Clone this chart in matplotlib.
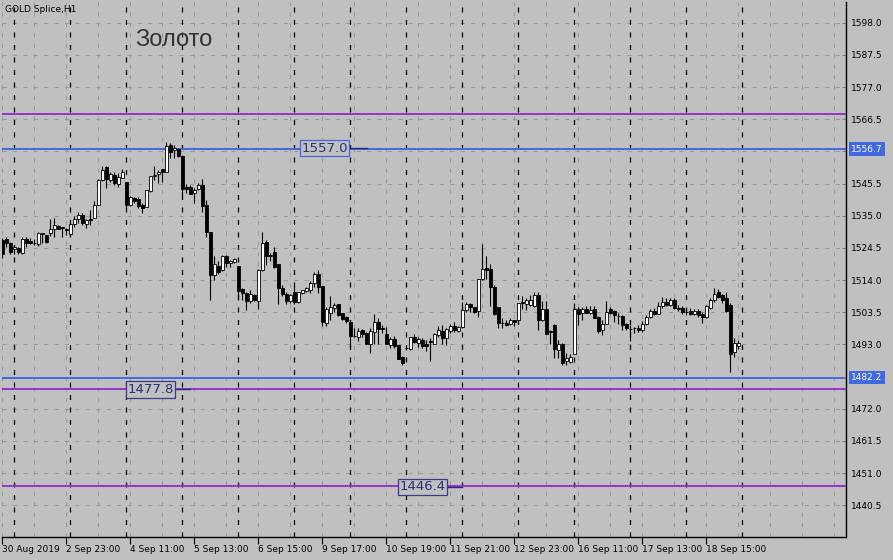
import numpy as np
import matplotlib.pyplot as plt

# H1 bars, 30 Aug 2019 21:00 .. 18 Sep 2019 23:00 (14 bars per trading day)
opens = [1527.0, 1527.3, 1526.0, 1524.0, 1524.6, 1523.0, 1527.4, 1526.8, 1526.0, 1525.7,
         1529.1, 1528.6, 1529.3, 1530.6, 1531.8, 1531.1, 1530.4, 1529.0, 1532.2, 1534.0,
         1535.1, 1532.4, 1534.0, 1534.4, 1538.6, 1546.6, 1551.0, 1546.7, 1548.3, 1545.3,
         1547.4, 1545.9, 1538.6, 1540.7, 1540.5, 1538.5, 1538.0, 1543.1, 1548.0, 1548.5,
         1550.3, 1549.4, 1558.1, 1556.3, 1556.8, 1554.5, 1544.5, 1544.3, 1542.3, 1543.6,
         1545.0, 1538.5, 1529.8, 1515.7, 1518.7, 1517.3, 1521.9, 1519.5, 1520.0, 1518.6,
         1511.2, 1509.9, 1507.2, 1509.1, 1507.2, 1517.3, 1526.5, 1522.0, 1523.2, 1519.1,
         1511.5, 1509.6, 1507.2, 1510.0, 1506.7, 1509.8, 1510.4, 1510.9, 1513.1, 1516.0,
         1512.0, 1500.1, 1503.3, 1505.0, 1506.1, 1503.1, 1501.8, 1500.4, 1495.9, 1495.5,
         1497.7, 1496.8, 1493.3, 1497.1, 1500.4, 1498.2, 1496.4, 1492.9, 1494.7, 1492.8,
         1489.0, 1491.9, 1491.5, 1495.3, 1493.6, 1494.6, 1493.0, 1493.9, 1493.3, 1496.2,
         1497.3, 1495.2, 1497.3, 1499.0, 1497.3, 1498.7, 1504.4, 1506.1, 1505.1, 1503.9,
         1514.2, 1517.8, 1517.6, 1511.8, 1505.1, 1499.9, 1500.1, 1499.6, 1500.9, 1500.9,
         1506.9, 1506.2, 1505.8, 1505.5, 1509.1, 1501.1, 1504.5, 1497.2, 1499.5, 1491.1,
         1493.1, 1487.6, 1487.3, 1490.0, 1504.5, 1503.4, 1504.5, 1503.3, 1504.5, 1502.0,
         1497.7, 1499.8, 1504.7, 1503.9, 1502.2, 1502.2, 1499.6, 1497.9, 1498.2, 1498.4,
         1497.7, 1499.8, 1501.9, 1504.0, 1503.0, 1505.5, 1507.0, 1506.0, 1507.5, 1505.0,
         1505.0, 1503.5, 1504.0, 1503.0, 1504.0, 1503.0, 1502.0, 1505.0, 1507.5, 1510.0,
         1509.0, 1508.0, 1506.0, 1490.5, 1492.5]
highs = [1527.6, 1528.0, 1526.5, 1525.5, 1524.9, 1528.0, 1528.0, 1527.6, 1527.3, 1529.6,
         1529.2, 1528.8, 1533.8, 1534.2, 1532.0, 1531.2, 1530.9, 1532.5, 1534.9, 1536.1,
         1536.0, 1533.8, 1536.9, 1539.9, 1546.9, 1551.2, 1551.2, 1549.4, 1549.4, 1549.1,
         1550.3, 1546.1, 1541.5, 1541.2, 1541.2, 1539.1, 1543.4, 1548.1, 1551.2, 1549.9,
         1550.4, 1559.2, 1558.6, 1558.1, 1557.0, 1554.8, 1545.3, 1545.0, 1544.0, 1545.6,
         1546.9, 1540.1, 1529.8, 1521.9, 1520.2, 1522.2, 1522.2, 1520.6, 1521.1, 1518.7,
         1511.5, 1510.2, 1510.7, 1509.4, 1517.6, 1529.8, 1527.1, 1522.7, 1524.9, 1519.4,
         1512.4, 1510.1, 1509.6, 1512.4, 1510.2, 1510.9, 1511.8, 1513.8, 1516.7, 1517.2,
         1512.0, 1505.1, 1508.8, 1506.6, 1506.1, 1503.3, 1502.2, 1500.9, 1498.5, 1498.2,
         1498.0, 1497.1, 1498.2, 1502.9, 1501.5, 1499.3, 1498.7, 1495.5, 1495.7, 1492.8,
         1489.2, 1492.2, 1495.5, 1496.4, 1495.5, 1495.2, 1494.4, 1495.0, 1496.8, 1499.1,
         1499.3, 1498.2, 1499.6, 1500.2, 1499.0, 1506.9, 1506.9, 1506.6, 1505.3, 1514.2,
         1525.7, 1521.8, 1519.4, 1512.5, 1505.3, 1501.5, 1500.9, 1501.5, 1501.1, 1506.6,
         1508.8, 1508.0, 1509.1, 1510.2, 1510.2, 1507.1, 1507.1, 1497.7, 1499.8, 1494.6,
         1493.5, 1490.3, 1490.0, 1506.4, 1505.1, 1505.3, 1505.5, 1505.5, 1505.5, 1502.2,
         1500.9, 1507.1, 1505.1, 1504.2, 1503.1, 1502.6, 1500.1, 1499.3, 1498.7, 1499.3,
         1500.5, 1502.5, 1504.5, 1504.8, 1507.0, 1508.5, 1508.0, 1508.2, 1508.0, 1505.8,
         1505.5, 1504.5, 1504.8, 1504.5, 1504.5, 1503.5, 1506.0, 1508.0, 1511.5, 1511.0,
         1509.5, 1510.0, 1506.5, 1495.0, 1494.5]
lows = [1521.1, 1524.9, 1522.5, 1522.5, 1522.5, 1522.6, 1524.9, 1525.7, 1525.5, 1525.2,
        1526.2, 1526.2, 1528.4, 1528.0, 1530.6, 1528.2, 1528.6, 1528.7, 1531.4, 1532.5,
        1532.0, 1531.1, 1532.0, 1534.2, 1538.5, 1546.4, 1544.2, 1546.1, 1545.0, 1544.5,
        1547.2, 1538.0, 1538.2, 1539.3, 1537.4, 1536.0, 1537.9, 1542.9, 1546.7, 1545.6,
        1545.9, 1549.2, 1554.0, 1553.7, 1554.3, 1541.2, 1542.3, 1542.0, 1539.3, 1543.4,
        1536.3, 1527.9, 1507.5, 1514.0, 1516.0, 1517.1, 1518.4, 1518.4, 1519.5, 1507.5,
        1507.5, 1504.2, 1506.4, 1507.1, 1504.7, 1517.0, 1518.9, 1520.2, 1517.8, 1506.2,
        1508.8, 1506.2, 1506.6, 1506.2, 1506.4, 1509.6, 1510.2, 1509.8, 1511.8, 1509.8,
        1499.0, 1499.0, 1500.9, 1503.6, 1502.2, 1501.1, 1500.1, 1491.7, 1495.3, 1494.1,
        1495.5, 1493.1, 1490.3, 1493.3, 1493.3, 1496.6, 1493.1, 1491.7, 1491.7, 1488.2,
        1486.2, 1491.3, 1491.3, 1493.6, 1492.0, 1491.9, 1490.9, 1487.6, 1493.1, 1495.5,
        1493.3, 1492.8, 1496.6, 1497.1, 1497.1, 1498.5, 1503.6, 1503.6, 1503.3, 1502.0,
        1514.0, 1514.2, 1505.5, 1502.5, 1498.2, 1498.4, 1499.0, 1499.3, 1499.0, 1500.7,
        1504.7, 1504.2, 1505.5, 1505.3, 1497.7, 1500.7, 1496.4, 1493.1, 1488.6, 1488.6,
        1486.2, 1486.2, 1487.0, 1489.8, 1499.3, 1500.9, 1503.1, 1502.9, 1501.5, 1496.8,
        1496.2, 1499.6, 1502.9, 1500.4, 1499.8, 1497.7, 1497.7, 1494.1, 1496.8, 1497.1,
        1497.0, 1499.3, 1501.5, 1502.5, 1502.8, 1505.0, 1505.5, 1505.5, 1504.5, 1503.8,
        1503.0, 1502.5, 1502.5, 1502.5, 1502.0, 1500.0, 1501.5, 1504.5, 1507.0, 1508.0,
        1506.5, 1503.5, 1484.0, 1489.0, 1491.5]
closes = [1522.5, 1526.0, 1523.3, 1524.9, 1523.3, 1527.4, 1526.2, 1526.0, 1526.1, 1529.3,
          1529.0, 1526.4, 1530.6, 1532.0, 1530.8, 1531.0, 1530.3, 1532.2, 1534.0, 1535.1,
          1532.5, 1533.5, 1533.5, 1538.6, 1546.6, 1549.8, 1547.0, 1548.5, 1545.6, 1547.5,
          1549.2, 1538.6, 1541.1, 1539.8, 1538.2, 1537.6, 1543.3, 1547.9, 1548.4, 1549.4,
          1549.4, 1557.8, 1555.9, 1557.0, 1554.5, 1543.7, 1543.6, 1542.1, 1543.4, 1545.0,
          1538.2, 1529.8, 1515.7, 1519.3, 1516.8, 1521.9, 1519.7, 1520.2, 1520.8, 1510.6,
          1509.9, 1507.2, 1509.4, 1507.5, 1517.3, 1526.0, 1521.9, 1521.9, 1518.3, 1511.5,
          1509.4, 1507.2, 1509.1, 1506.7, 1510.0, 1510.7, 1511.3, 1512.9, 1516.0, 1511.8,
          1500.4, 1504.7, 1505.1, 1505.8, 1502.5, 1501.2, 1500.6, 1495.7, 1495.6, 1497.4,
          1496.4, 1493.3, 1497.3, 1500.4, 1498.0, 1498.0, 1493.3, 1494.9, 1492.5, 1488.4,
          1486.8, 1491.7, 1495.3, 1493.8, 1494.9, 1492.4, 1492.4, 1493.8, 1496.4, 1497.6,
          1495.2, 1497.9, 1499.0, 1497.7, 1498.7, 1504.4, 1506.1, 1505.1, 1503.6, 1514.2,
          1517.5, 1517.2, 1511.8, 1502.8, 1500.0, 1499.8, 1499.3, 1500.9, 1500.4, 1506.4,
          1506.4, 1507.5, 1507.5, 1509.1, 1501.1, 1504.5, 1496.4, 1497.1, 1491.5, 1493.1,
          1487.0, 1488.5, 1489.0, 1504.5, 1502.9, 1504.5, 1503.3, 1504.2, 1501.7, 1497.3,
          1499.8, 1503.6, 1503.3, 1502.6, 1502.2, 1499.3, 1498.2, 1497.8, 1498.1, 1497.7,
          1499.8, 1501.9, 1503.8, 1503.0, 1505.5, 1507.0, 1506.0, 1507.5, 1505.0, 1504.5,
          1503.5, 1503.4, 1503.0, 1504.0, 1502.5, 1502.0, 1505.5, 1507.5, 1509.5, 1508.5,
          1507.5, 1504.0, 1490.0, 1493.5, 1493.5]

time_labels = ['30 Aug 2019', '2 Sep 23:00', '4 Sep 11:00', '5 Sep 13:00', '6 Sep 15:00',
               '9 Sep 17:00', '10 Sep 19:00', '11 Sep 21:00', '12 Sep 23:00', '16 Sep 11:00',
               '17 Sep 13:00', '18 Sep 15:00']
label_bars = [0, 16, 32, 48, 64, 80, 96, 112, 128, 144, 160, 176]
day_starts = [3, 17, 31, 45, 59, 73, 87, 101, 115, 129, 143, 157, 171, 185]
price_ticks = [1440.5, 1451.0, 1461.5, 1472.0, 1482.5, 1493.0, 1503.5, 1514.0,
               1524.5, 1535.0, 1545.5, 1556.0, 1566.5, 1577.0, 1587.5, 1598.0]

# horizontal levels
blue_levels = [1556.7, 1482.2]
purple_levels = [1568.2, 1478.3, 1446.8]
# price label objects: (bar, level, text, edge colour, end bar of tail)
price_boxes = [(74.7, 1557.0, '1557.0', '#4169E1', 91.2),
               (31.2, 1478.3, '1477.8', '#3a3a8a', 46.9),
               (99.2, 1446.6, '1446.4', '#3a3a8a', 114.9)]

bg = '#C0C0C0'
x = np.arange(len(opens))
o = np.array(opens); c = np.array(closes)

fig = plt.figure(figsize=(8.93, 5.60), dpi=100, facecolor=bg)
ax = fig.add_axes([2/893, 23/560, 843.5/893, 535/560])
ax.set_facecolor(bg)
ax.set_xlim(-0.075, 210.8)
ax.set_ylim(1430.15, 1604.76)

# grid
for p in price_ticks:
    ax.axhline(p, color='#9a9a9a', lw=0.75, ls=(0, (4, 6)), zorder=0.5)
for b in range(0, 211, 8):
    ax.axvline(b, color='#9a9a9a', lw=0.75, ls=(0, (4, 6)), zorder=0.5)
for b in day_starts:
    ax.axvline(b, color='black', lw=0.9, ls=(0, (4, 6)), zorder=0.6)

for lv in blue_levels:
    ax.axhline(lv, color='#4169E1', lw=1.4, zorder=1)
for lv in purple_levels:
    ax.axhline(lv, color='#9932CC', lw=1.4, zorder=1)

# candles
ax.vlines(x, lows, highs, color='black', lw=0.8, zorder=2)
fill = np.where(c >= o, 'white', 'black')
height = c - o
height = np.where(np.abs(height) < 0.15, 0.15, height)
ax.bar(x, height, bottom=o, width=0.72, color=fill, edgecolor='black', lw=0.6, zorder=3)

for bx, lv, txt, ec, tail in price_boxes:
    ax.plot([bx + 12.2, tail], [lv, lv], color='#2a2a7a', lw=1.0, zorder=4)
    ax.text(bx, lv, txt, fontsize=9.5, color='#26337A', ha='left', va='center', zorder=5,
            bbox=dict(boxstyle='square,pad=0.12', fc=bg, ec=ec, lw=0.9))

# axes
for s in ['left', 'top']:
    ax.spines[s].set_visible(False)
for s in ['right', 'bottom']:
    ax.spines[s].set_color('black')
    ax.spines[s].set_linewidth(1.0)

# tick labels hidden behind the current-level boxes on the price scale
covered = [1556.0, 1482.5]
ax.yaxis.tick_right()
ax.set_yticks(price_ticks)
ax.set_yticklabels(['' if p in covered else f'{p:.1f}' for p in price_ticks])
ax.tick_params(axis='y', direction='in', length=3, width=0.8, color='#808080',
               labelsize=6.5, pad=4)
ax.set_xticks(label_bars)
ax.set_xticklabels(time_labels, ha='left')
ax.tick_params(axis='x', direction='out', length=5, width=0.8, color='black',
               labelsize=6.5, pad=1)

for lv in blue_levels:
    ax.annotate(f'{lv:.1f}', xy=(1, lv), xycoords=('axes fraction', 'data'),
                xytext=(4, 0), textcoords='offset points', fontsize=6.5, color='white',
                ha='left', va='center', annotation_clip=False, zorder=6,
                bbox=dict(boxstyle='square,pad=0.25', fc='#4169E1', ec='none'))

fig.text(5/893, 1 - 10/560, 'GOLD Splice,H1', fontsize=6.5, color='black', va='center')
fig.text(135/893, 1 - 40/560, 'Золото', fontsize=17, color='#333333', va='center',
         family=['Liberation Sans', 'DejaVu Sans'])

plt.savefig('out.png', dpi=100, facecolor=bg)
